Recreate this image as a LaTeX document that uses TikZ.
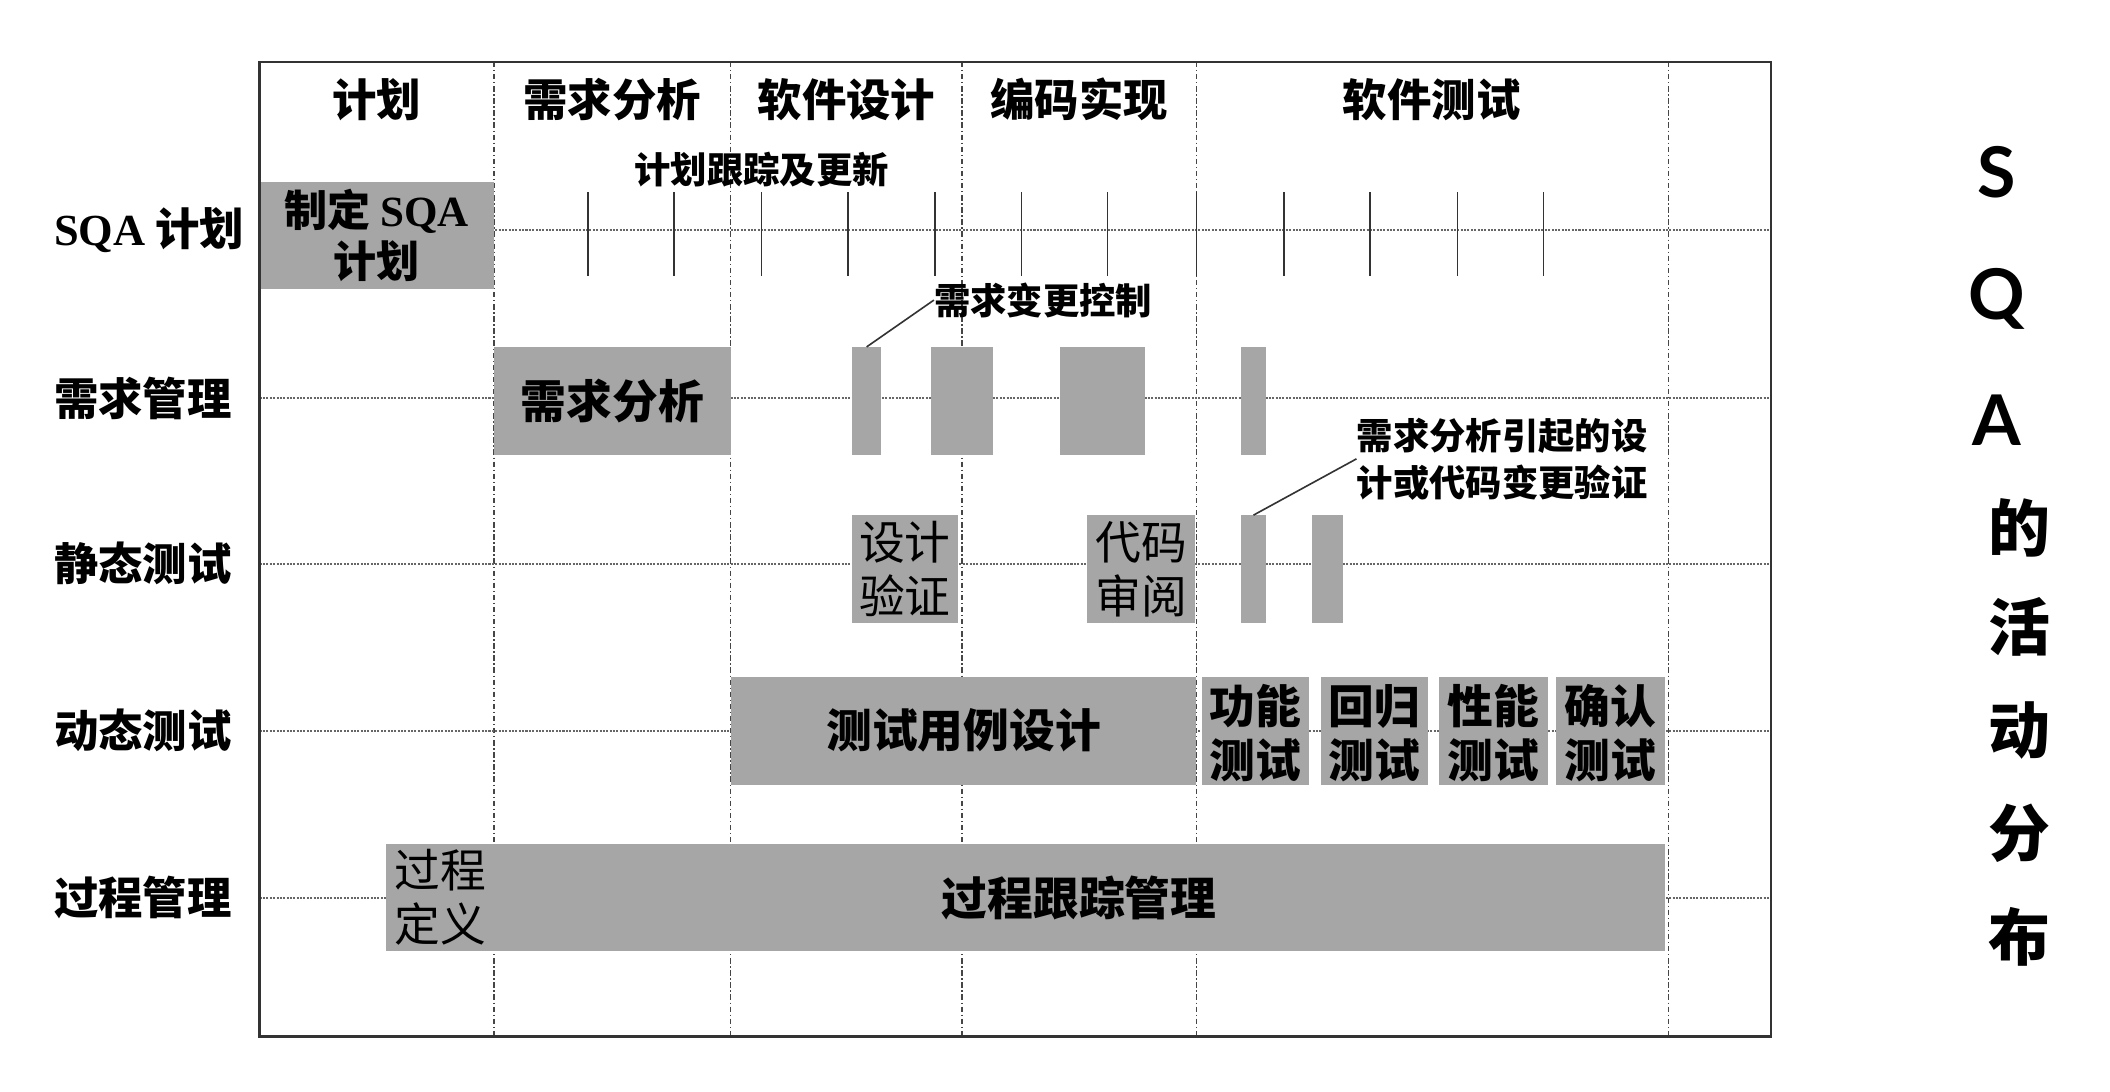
\documentclass[tikz,border=0pt]{standalone}
\usepackage{fontspec}
\setmainfont{Liberation Serif}
\newfontfamily\cjk{Noto Sans CJK SC}
\newfontfamily\latof{Lato}
\definecolor{boxgray}{RGB}{166,166,166}
\definecolor{linegray}{RGB}{70,70,70}
\begin{document}
\begin{tikzpicture}[x=1pt,y=-1pt,
  gbox/.style={fill=boxgray, draw=none, inner sep=0pt, minimum height=80pt},
  headtxt/.style={font=\cjk\bfseries\fontsize{33}{38}\selectfont, inner sep=0pt},
  rowtxt/.style={font=\cjk\bfseries\fontsize{33}{38}\selectfont, inner sep=0pt, anchor=west},
  boxtxt/.style={font=\cjk\fontsize{34}{40}\selectfont, align=center},
  boxbold/.style={font=\cjk\bfseries\fontsize{34}{40}\selectfont, align=center},
  notetxt/.style={font=\cjk\bfseries\fontsize{27}{35}\selectfont, inner sep=0pt},
  vdiv/.style={linegray, line width=1pt, dash pattern=on 4pt off 2pt on 1pt off 2pt},
  hdot/.style={black!60, line width=1.5pt, dash pattern=on 1.5pt off 1pt},
  tick/.style={black!80, line width=1.2pt},
  leader/.style={black!80, line width=1.2pt},
  sidelat/.style={font=\latof\bfseries\fontsize{52}{52}\selectfont, inner sep=0pt},
  sidecjk/.style={font=\cjk\bfseries\fontsize{46}{46}\selectfont, inner sep=0pt}
]
\useasboundingbox (0,0) rectangle (1568,811);
\fill[white] (0,0) rectangle (1568,811);

% grid lines
\foreach \x in {367,543,715,889,1240}
  \draw[vdiv] (\x,46) -- (\x,770);
\foreach \y in {171,296,419,543,667}
  \draw[hdot] (193,\y) -- (1316,\y);

% header
\node[headtxt] (h1) at (280,74) {计划};
\node[headtxt] (h2) at (455,74) {需求分析};
\node[headtxt] (h3) at (629,74) {软件设计};
\node[headtxt] (h4) at (802,74) {编码实现};
\node[headtxt] (h5) at (1064,74) {软件测试};

% row labels
\node[rowtxt] (r1) at (40,171) {{\rmfamily\bfseries SQA} 计划};
\node[rowtxt] (r2) at (40,296) {需求管理};
\node[rowtxt] (r3) at (40,419) {静态测试};
\node[rowtxt] (r4) at (40,543) {动态测试};
\node[rowtxt] (r5) at (40,667) {过程管理};

% SQA plan row
\node[gbox, minimum width=174pt] (sqaplan) at (280,175) {};
\node[font=\cjk\bfseries\fontsize{32}{38}\selectfont, align=center, inner sep=0pt] (sqaplantxt) at (280,175) {制定 {\rmfamily SQA}\\计划};
\node[notetxt] (track) at (566,126) {计划跟踪及更新};
\foreach \x in {437,501,566,630,695,759,823,889,954,1018,1083,1147}
  \draw[tick] (\x,143) -- (\x,205);

% requirement management row
\node[gbox, minimum width=176pt] (reqana) at (455,298) {};
\node[boxbold, inner sep=0pt] (reqanatxt) at (455,298) {需求分析};
\node[gbox, minimum width=22pt] (rc1) at (644,298) {};
\node[gbox, minimum width=46pt] (rc2) at (715,298) {};
\node[gbox, minimum width=63pt] (rc3) at (819.5,298) {};
\node[gbox, minimum width=19pt] (rc4) at (931.5,298) {};
\node[notetxt, anchor=west] (rcc) at (694,223) {需求变更控制};
\draw[leader] (rcc.west) -- (rc1.north);

% static test row
\node[gbox, minimum width=79pt] (dv) at (672.5,423) {};
\node[boxtxt, inner sep=0pt] (dvtxt) at (672.5,423) {设计\\验证};
\node[gbox, minimum width=80pt] (cr) at (848,423) {};
\node[boxtxt, inner sep=0pt] (crtxt) at (848,423) {代码\\审阅};
\node[gbox, minimum width=19pt] (sv1) at (931.5,423) {};
\node[gbox, minimum width=23pt] (sv2) at (986.5,423) {};
\node[notetxt, anchor=west, align=left] (rcv) at (1008,341) {需求分析引起的设\\计或代码变更验证};
\draw[leader] (rcv.west) -- (sv1.north);

% dynamic test row
\node[gbox, minimum width=346pt] (tcd) at (716,543) {};
\node[boxbold, inner sep=0pt] (tcdtxt) at (716,543) {测试用例设计};
\node[gbox, minimum width=80pt] (ft) at (933,543) {};
\node[boxbold, inner sep=0pt] (fttxt) at (933,545) {功能\\测试};
\node[gbox, minimum width=79pt] (rt) at (1021.5,543) {};
\node[boxbold, inner sep=0pt] (rttxt) at (1021.5,545) {回归\\测试};
\node[gbox, minimum width=81pt] (pt) at (1109.5,543) {};
\node[boxbold, inner sep=0pt] (pttxt) at (1109.5,545) {性能\\测试};
\node[gbox, minimum width=81pt] (at) at (1196.5,543) {};
\node[boxbold, inner sep=0pt] (attxt) at (1196.5,545) {确认\\测试};

% process management row
\node[gbox, minimum width=80pt] (pd) at (327,667) {};
\node[boxtxt, inner sep=0pt] (pdtxt) at (327,667) {过程\\定义};
\node[gbox, minimum width=870pt] (ptm) at (802,667) {};
\node[boxbold, inner sep=0pt] (ptmtxt) at (802,667) {过程跟踪管理};

% frame
\draw[black!80, line width=2pt] (193,46) rectangle (1316,770);

% side title
\node[sidelat] (sS) at (1484,128) {S};
\node[sidelat] (sQ) at (1484,222) {Q};
\node[sidelat] (sA) at (1484,312) {A};
\node[sidecjk] (c1) at (1501,392) {的};
\node[sidecjk] (c2) at (1501,466) {活};
\node[sidecjk] (c3) at (1501,543) {动};
\node[sidecjk] (c4) at (1501,619) {分};
\node[sidecjk] (c5) at (1501,696) {布};
\end{tikzpicture}
\end{document}
